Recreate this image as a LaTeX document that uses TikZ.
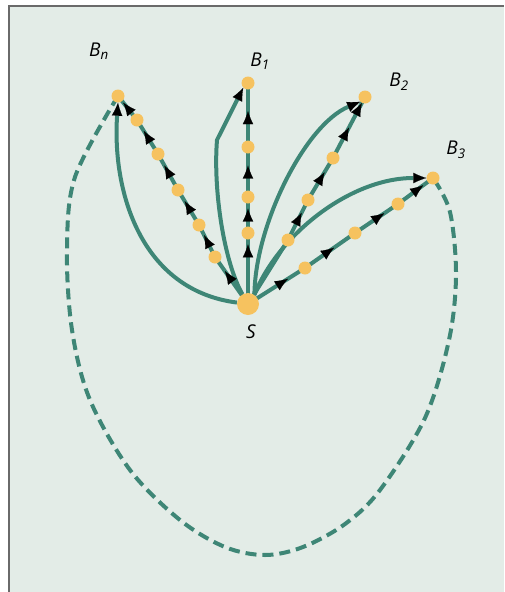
\documentclass[tikz,border=0pt]{standalone}
\usepackage{fontspec}
\setmainfont{Open Sans}
\usetikzlibrary{arrows.meta,decorations.markings}
\definecolor{bgc}{HTML}{E3ECE7}
\definecolor{tealc}{HTML}{3E8676}
\definecolor{dotc}{HTML}{F6C25F}
\definecolor{framec}{HTML}{6A6A6A}
\pgfdeclarelayer{bgl}
\pgfdeclarelayer{lines}
\pgfsetlayers{bgl,lines,main}
\tikzset{
  >={Latex[length=13pt,width=10.5pt,color=black,line width=0.1pt]},
  con/.style={draw=tealc, line width=4pt},
  arr/.style={postaction={decorate}, decoration={markings, mark=at position #1 with {\arrow{>}}}},
  arrtwo/.style 2 args={postaction={decorate}, decoration={markings,
      mark=at position #1 with {\arrow{>}}, mark=at position #2 with {\arrow{>}}}},
  dot/.style={circle, fill=dotc, minimum size=13pt, inner sep=0pt},
  bigdot/.style={circle, fill=dotc, minimum size=22pt, inner sep=0pt},
  lab/.style={font=\itshape\fontsize{19}{21}\selectfont, inner sep=0pt}
}
\begin{document}
\begin{tikzpicture}[x=1pt,y=-1pt]
\useasboundingbox (0,0) rectangle (504,592);
\begin{pgfonlayer}{bgl}
  \fill[bgc] (8,5) rectangle (504,592);
  \draw[framec, line width=1.5pt] (8.75,592) -- (8.75,5.75) -- (504,5.75);
\end{pgfonlayer}

% dots
\node[bigdot] (S) at (248,304) {};
\node[dot] (Bn) at (118,96) {};
\node[dot] (e1) at (137,120) {};
\node[dot] (e2) at (158,154) {};
\node[dot] (e3) at (178,190) {};
\node[dot] (e4) at (199,225) {};
\node[dot] (e5) at (215,257) {};
\node[dot] (B1) at (248,83) {};
\node[dot] (f2) at (248,147) {};
\node[dot] (f3) at (248,197) {};
\node[dot] (f4) at (248,233) {};
\node[dot] (B2) at (365,97) {};
\node[dot] (g1) at (288,240) {};
\node[dot] (g2) at (308,200) {};
\node[dot] (g3) at (333,158) {};
\node[dot] (B3) at (433,178) {};
\node[dot] (h1) at (305,268) {};
\node[dot] (h2) at (355,233) {};
\node[dot] (h3) at (398,204) {};

% labels
\node[lab] (lBn) at (99,51) {B\textsubscript{n}};
\node[lab] (lB1) at (260,61) {B\textsubscript{1}};
\node[lab] (lB2) at (399,82) {B\textsubscript{2}};
\node[lab] (lB3) at (456,150) {B\textsubscript{3}};
\node[lab] (lS) at (251,332) {S};

\begin{pgfonlayer}{lines}
  % dashed outer loop
  \draw[con, dash pattern=on 11pt off 6pt] plot[smooth, tension=0.55] coordinates {
    (Bn.center) (75,177) (67,250) (72,330) (90,400) (130,470) (180,520)
    (225,547) (265,555) (303,547) (345,524) (380,490) (425,418) (449,340)
    (456,275) (450,212) (B3.center)};
  % curved connectors
  \draw[con,->] (S) .. controls (140,290) and (112,190) .. (Bn.south);
  \draw[con,->] (S) .. controls (224,262) and (213,190) .. (217,140) -- (B1.south west);
  \draw[con,->] (S.55) .. controls (255,225) and (305,125) .. (B2.south west);
  \draw[con,->] (S.55) .. controls (278,235) and (350,178) .. (B3.west);
  % chain to Bn
  \draw[con, arr=0.7] (S.center) -- (e5.center);
  \draw[con, arr=0.68] (e5.center) -- (e4.center);
  \draw[con, arr=0.68] (e4.center) -- (e3.center);
  \draw[con, arr=0.68] (e3.center) -- (e2.center);
  \draw[con, arr=0.68] (e2.center) -- (e1.center);
  \draw[con, arr=0.72] (e1.center) -- (Bn.center);
  % chain to B1
  \draw[con, arr=0.84] (S.center) -- (f4.center);
  \draw[con, arr=0.68] (f4.center) -- (f3.center);
  \draw[con, arr=0.63] (f3.center) -- (f2.center);
  \draw[con, arr=0.56] (f2.center) -- (B1.center);
  % chain to B2
  \draw[con] (S.center) -- (g1.center);
  \draw[con, arr=0.68] (g1.center) -- (g2.center);
  \draw[con, arr=0.66] (g2.center) -- (g3.center);
  \draw[con, arrtwo={0.5}{0.9}] (g3.center) -- (B2.center);
  % chain to B3
  \draw[con, arr=0.7] (S.center) -- (h1.center);
  \draw[con, arr=0.58] (h1.center) -- (h2.center);
  \draw[con, arr=0.68] (h2.center) -- (h3.center);
  \draw[con, arr=0.72] (h3.center) -- (B3.center);
\end{pgfonlayer}
\end{tikzpicture}
\end{document}
